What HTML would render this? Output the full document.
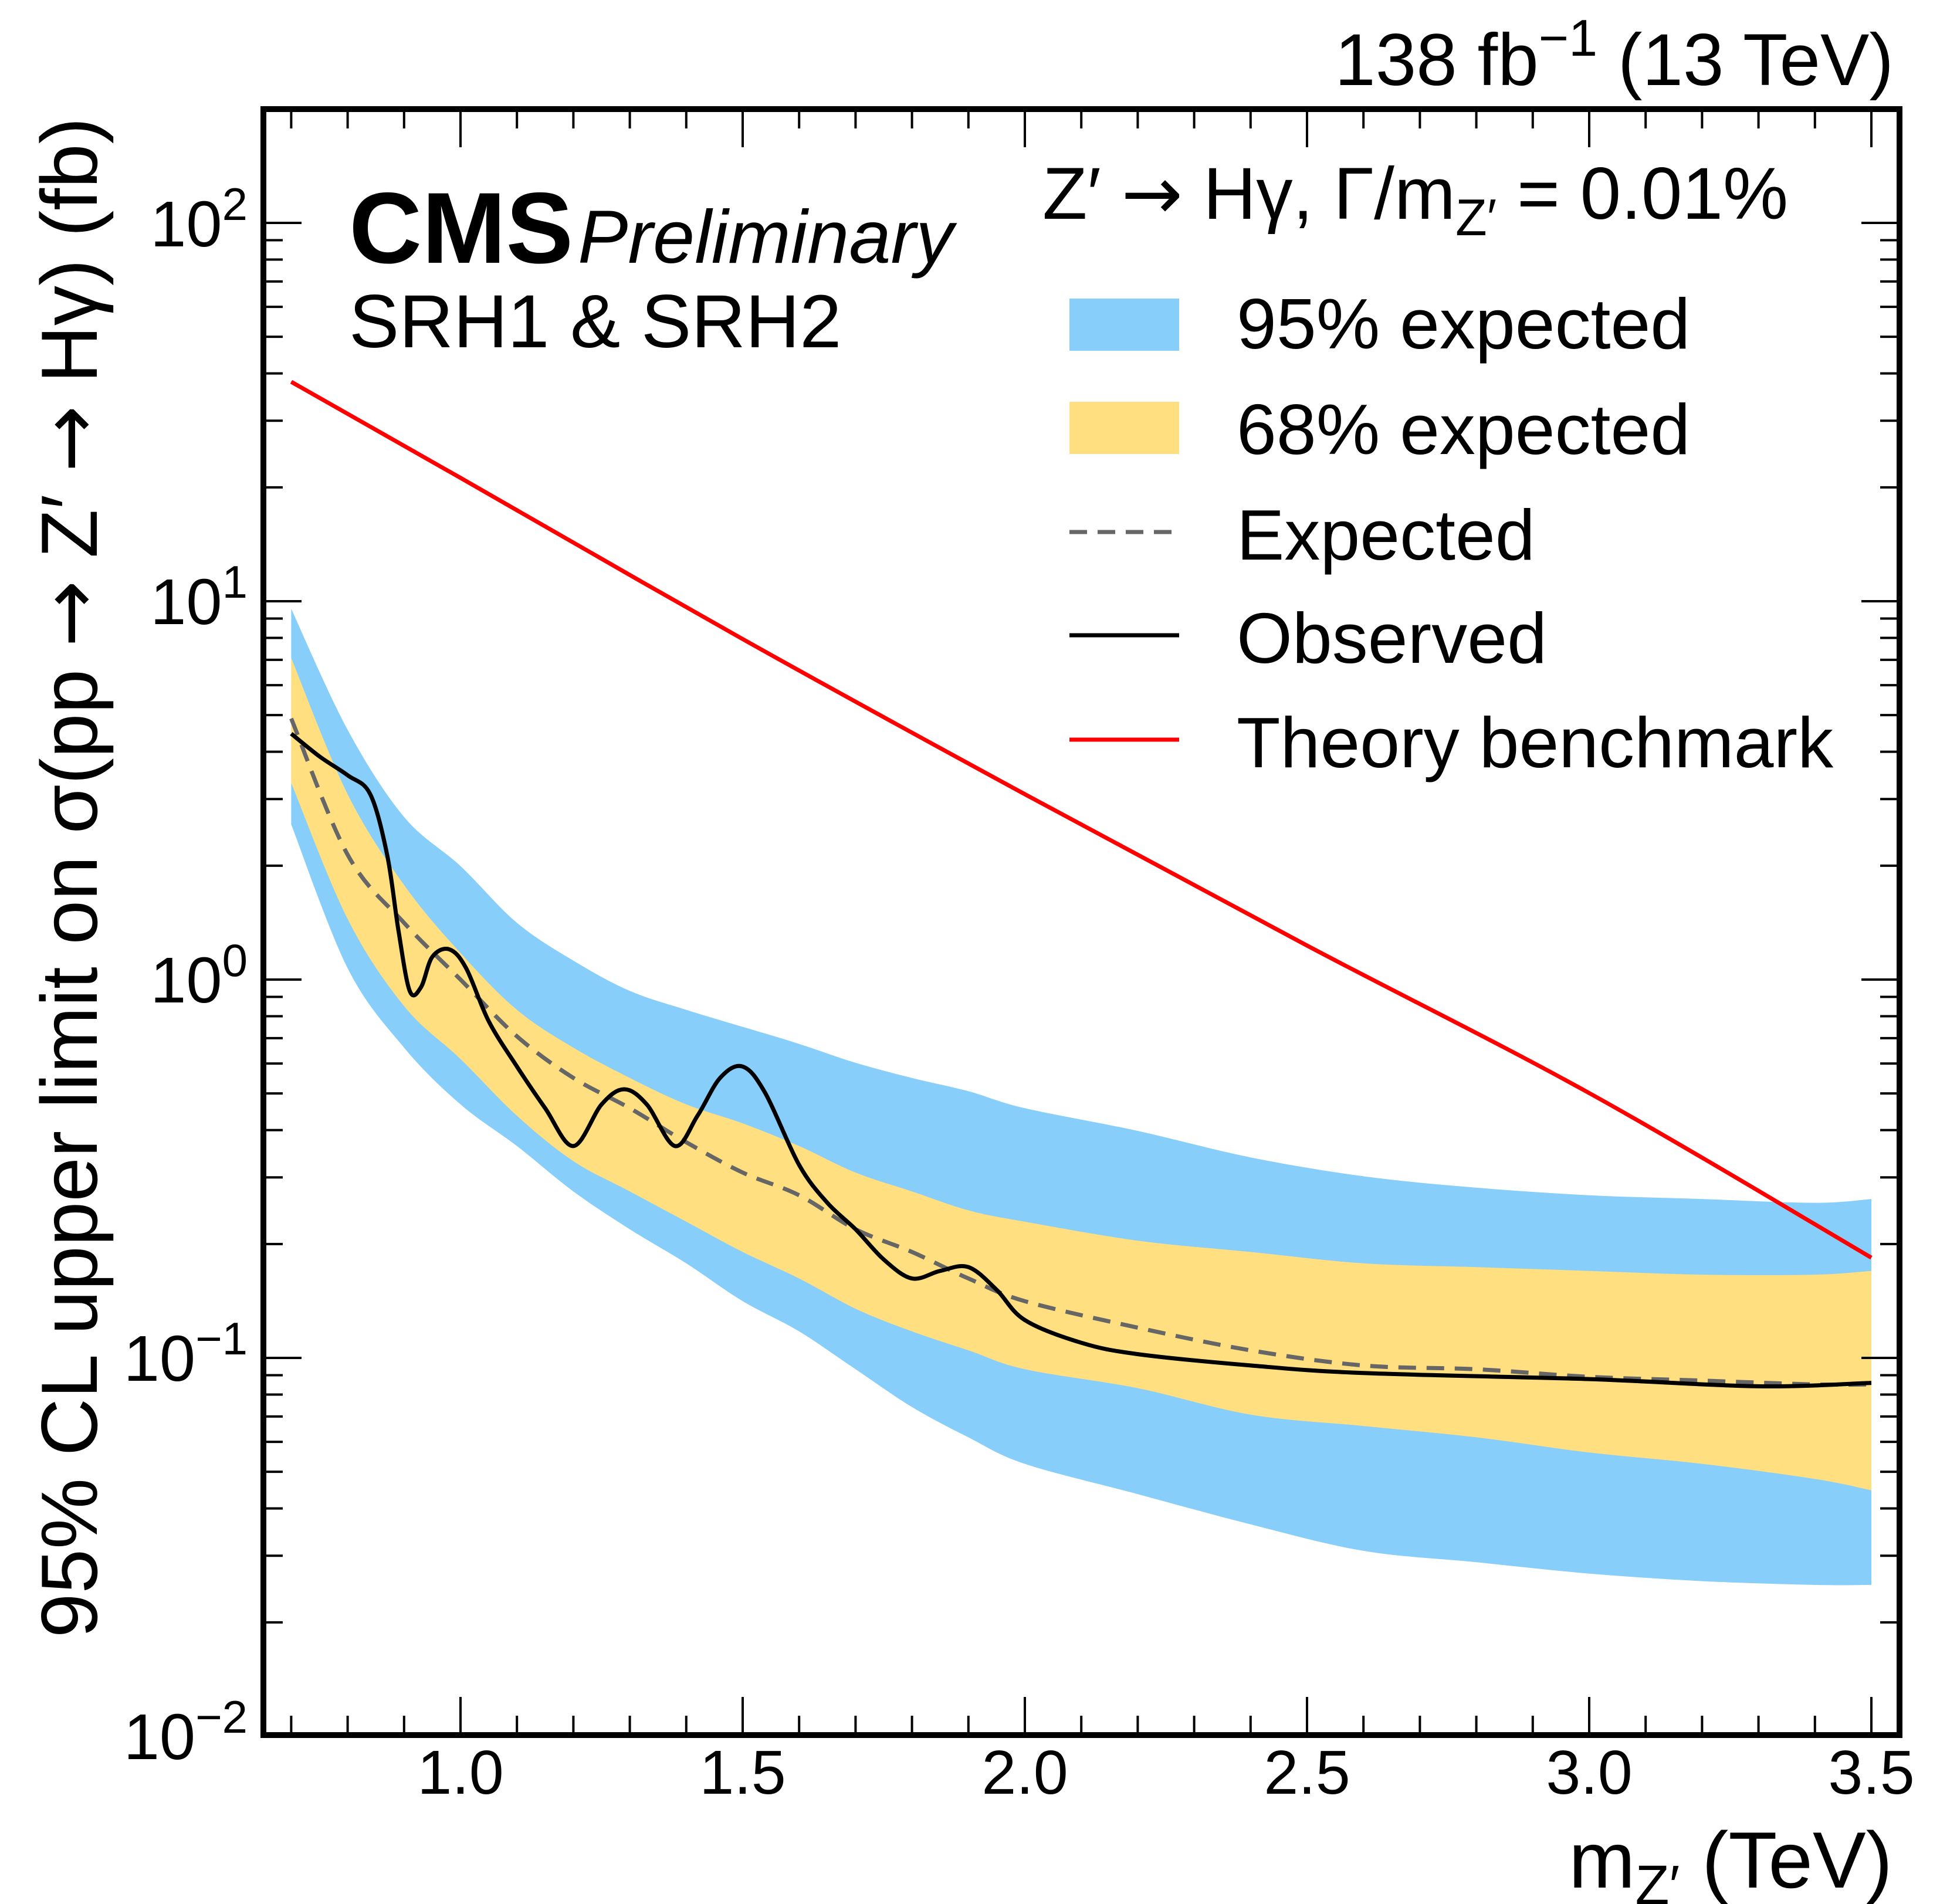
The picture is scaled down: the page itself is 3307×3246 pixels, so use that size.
<!DOCTYPE html>
<html><head><meta charset="utf-8"><style>
html,body{margin:0;padding:0;background:#fff;}
svg{display:block;}
text{font-family:"Liberation Sans",Arial,sans-serif;fill:#000;}
.ar{font-family:"DejaVu Sans",sans-serif;}
</style></head><body>
<svg id="s" width="3307" height="3246" viewBox="0 0 3307 3246" xmlns="http://www.w3.org/2000/svg">
<g id="bands"></g>
<g id="ticks"></g>
<rect x="449" y="186" width="2789" height="2772" fill="none" stroke="#000" stroke-width="10"/>
<g font-size="110" text-anchor="end">
<text x="422" y="420">10<tspan dy="-45" font-size="78">2</tspan></text>
<text x="422" y="1064">10<tspan dy="-45" font-size="78">1</tspan></text>
<text x="422" y="1709">10<tspan dy="-45" font-size="78">0</tspan></text>
<text x="422" y="2354">10<tspan dy="-45" font-size="78">−1</tspan></text>
<text x="422" y="2999">10<tspan dy="-45" font-size="78">−2</tspan></text>
</g>
<g font-size="106" text-anchor="middle">
<text x="785" y="3058">1.0</text>
<text x="1266" y="3058">1.5</text>
<text x="1747" y="3058">2.0</text>
<text x="2228" y="3058">2.5</text>
<text x="2709" y="3058">3.0</text>
<text x="3190" y="3058">3.5</text>
</g>
<text x="3226" y="3218" font-size="136" text-anchor="end">m<tspan font-size="95" dy="28">Z′</tspan><tspan dy="-28"> (TeV)</tspan></text>
<text transform="translate(165,200) rotate(-90)" font-size="136" text-anchor="end">95% CL upper limit on σ(pp <tspan class="ar">→</tspan> Z′ <tspan class="ar">→</tspan> Hγ) (fb)</text>
<text x="3228" y="145" font-size="125" text-anchor="end">138 fb<tspan dy="-50" font-size="88">−1</tspan><tspan dy="50"> (13 TeV)</tspan></text>
<text x="595" y="448" font-size="172" font-weight="bold">CMS</text>
<text x="985" y="448" font-size="128" font-style="italic">Preliminary</text>
<text x="595" y="592" font-size="128">SRH1 &amp; SRH2</text>
<text x="1777" y="373" font-size="125">Z′ <tspan class="ar">→</tspan> Hγ,  Γ/m<tspan font-size="88" dy="28">Z′</tspan><tspan dy="-28"> = 0.01%</tspan></text>
<rect x="1823" y="509" width="187" height="89" fill="#87CEFA"/>
<rect x="1823" y="685" width="187" height="89" fill="#FFDF7F"/>
<line x1="1823" y1="907" x2="2010" y2="907" stroke="#666" stroke-width="7" stroke-dasharray="30,18"/>
<line x1="1823" y1="1083" x2="2010" y2="1083" stroke="#000" stroke-width="7"/>
<line x1="1823" y1="1261" x2="2010" y2="1261" stroke="#f00" stroke-width="7"/>
<g font-size="122">
<text x="2108" y="594">95% expected</text>
<text x="2108" y="774">68% expected</text>
<text x="2108" y="954">Expected</text>
<text x="2108" y="1130">Observed</text>
<text x="2108" y="1308">Theory benchmark</text>
</g>
</svg>
<script>
var NS="http://www.w3.org/2000/svg";
function X(m){return 785+(m-1)*962;}
function Y(l){return 1670-l*645;}
var xs=[0.7,0.8,0.9,1.0,1.1,1.2,1.3,1.4,1.5,1.6,1.7,1.8,1.9,2.0,2.2,2.4,2.6,2.8,3.0,3.2,3.4,3.5];
var bu=[0.98,0.66,0.43,0.30,0.15,0.05,-0.03,-0.08,-0.125,-0.17,-0.22,-0.26,-0.295,-0.34,-0.40,-0.47,-0.52,-0.55,-0.57,-0.58,-0.59,-0.58];
var yu=[0.85,0.49,0.25,0.07,-0.08,-0.18,-0.26,-0.33,-0.38,-0.44,-0.51,-0.56,-0.61,-0.64,-0.69,-0.72,-0.75,-0.76,-0.77,-0.78,-0.78,-0.77];
var ex=[0.69,0.33,0.15,0,-0.15,-0.26,-0.34,-0.43,-0.51,-0.57,-0.66,-0.72,-0.79,-0.85,-0.92,-0.98,-1.02,-1.03,-1.05,-1.06,-1.07,-1.07];
var yl=[0.52,0.16,-0.07,-0.21,-0.36,-0.48,-0.56,-0.64,-0.72,-0.79,-0.87,-0.93,-0.98,-1.03,-1.08,-1.15,-1.18,-1.21,-1.25,-1.28,-1.32,-1.35];
var bl=[0.41,0.03,-0.18,-0.33,-0.44,-0.56,-0.66,-0.75,-0.85,-0.93,-1.03,-1.13,-1.21,-1.28,-1.36,-1.44,-1.51,-1.54,-1.57,-1.59,-1.60,-1.60];
function pts(a,b){var p=[];for(var i=0;i<a.length;i++)p.push([X(a[i]),Y(b[i])]);return p;}
function seg(p){var d="";for(var i=0;i<p.length-1;i++){var p0=p[i-1]||p[i],p1=p[i],p2=p[i+1],p3=p[i+2]||p2;
var c1=[p1[0]+(p2[0]-p0[0])/6,p1[1]+(p2[1]-p0[1])/6],c2=[p2[0]-(p3[0]-p1[0])/6,p2[1]-(p3[1]-p1[1])/6];
d+=" C"+c1[0].toFixed(1)+","+c1[1].toFixed(1)+" "+c2[0].toFixed(1)+","+c2[1].toFixed(1)+" "+p2[0].toFixed(1)+","+p2[1].toFixed(1);}return d;}
function smooth(p){return "M"+p[0][0]+","+p[0][1]+seg(p);}
function band(u,l,c){var p=pts(xs,u),q=pts(xs,l).reverse();var d=smooth(p)+" L"+q[0][0]+","+q[0][1]+seg(q)+"Z";
var e=document.createElementNS(NS,"path");e.setAttribute("d",d);e.setAttribute("fill",c);document.getElementById("bands").appendChild(e);}
function line(d,c,w,da){var e=document.createElementNS(NS,"path");e.setAttribute("d",d);e.setAttribute("fill","none");e.setAttribute("stroke",c);e.setAttribute("stroke-width",w);if(da)e.setAttribute("stroke-dasharray",da);document.getElementById("bands").appendChild(e);}
band(bu,bl,"#87CEFA");band(yu,yl,"#FFDF7F");
line(smooth(pts(xs,ex)),"#666",7,"30,18");
var ox=[0.7,0.75,0.8,0.84,0.87,0.89,0.91,0.93,0.95,0.98,1.01,1.05,1.1,1.15,1.2,1.25,1.29,1.33,1.38,1.42,1.46,1.5,1.54,1.6,1.65,1.7,1.75,1.8,1.85,1.9,1.95,2.0,2.1,2.2,2.4,2.6,3.0,3.3,3.5];
var oy=[0.65,0.59,0.54,0.49,0.33,0.13,-0.03,-0.02,0.06,0.08,0.03,-0.11,-0.23,-0.34,-0.44,-0.33,-0.29,-0.33,-0.44,-0.36,-0.26,-0.23,-0.30,-0.49,-0.59,-0.66,-0.74,-0.79,-0.77,-0.76,-0.82,-0.90,-0.96,-0.99,-1.02,-1.04,-1.056,-1.075,-1.066];
line(smooth(pts(ox,oy)),"#000",7);
var tx=[0.7,1.0,1.5,2.0,2.5,3.0,3.5],ty=[1.58,1.326,0.90,0.49,0.09,-0.30,-0.735];
line(smooth(pts(tx,ty)),"#f00",7);
var t=document.getElementById("ticks"),s="";
function L(x1,y1,x2,y2){s+="M"+x1+","+y1+"L"+x2+","+y2;}
for(var k=7;k<=35;k++){var m=k/10,x=X(m),len=(k%5==0)?60:28;L(x,2953,x,2953-len);L(x,191,x,191+len);}
for(var dec=-2;dec<=2;dec++){for(var j=1;j<=9;j++){var l=dec+Math.log10(j);if(l>Math.log10(200))break;var y=Y(l),len=(j==1)?60:28;L(454,y,454+len,y);L(3233,y,3233-len,y);}}
var e=document.createElementNS(NS,"path");e.setAttribute("d",s);e.setAttribute("stroke","#000");e.setAttribute("stroke-width","4");t.appendChild(e);
</script>
</body></html>
